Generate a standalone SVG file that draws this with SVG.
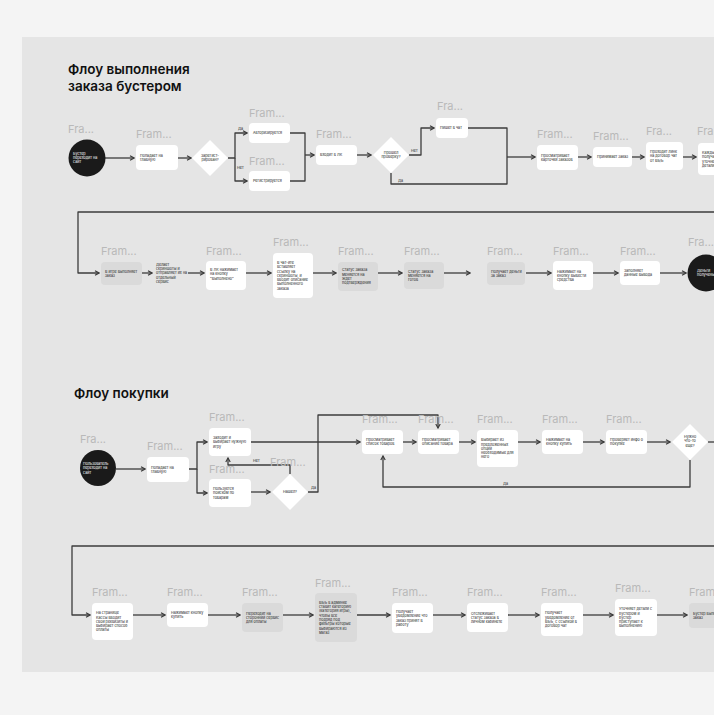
<svg xmlns="http://www.w3.org/2000/svg" width="714" height="715" viewBox="0 0 714 715">
<defs>
<style>
.fl{font-family:Inter,"Liberation Sans",sans-serif;font-size:11px;fill:#b9b9b9}
.t{font-family:Inter,"Liberation Sans",sans-serif;font-size:3.7px;fill:#1e1e1e}
.tm{text-anchor:middle}
.tw{fill:#ffffff}
.lb{font-family:Inter,"Liberation Sans",sans-serif;font-size:3.7px;fill:#1e1e1e}
.title{font-family:Inter,"Liberation Sans",sans-serif;font-size:13.5px;font-weight:600;fill:#111111}
.box{fill:#ffffff}
.gbox{fill:#dadada}
.dia{fill:#ffffff}
.circ{fill:#1a1a1a}
.c{fill:none;stroke:#3c3c3c;stroke-width:1.3;stroke-linejoin:round}
.a{marker-end:url(#ah)}
</style>
<marker id="ah" viewBox="0 0 6 6" refX="5" refY="3" markerWidth="6" markerHeight="6" markerUnits="userSpaceOnUse" orient="auto">
<path d="M1,0.8 L5,3 L1,5.2" fill="none" stroke="#3c3c3c" stroke-width="1.2"/>
</marker>
</defs>
<rect x="0" y="0" width="714" height="715" fill="#f4f4f4"/>
<rect x="22" y="37" width="692" height="635" fill="#e5e5e5"/>

<text class="title" x="68" y="74">Флоу выполнения</text>
<text class="title" x="68" y="91">заказа бустером</text>
<text class="title" x="74" y="398">Флоу покупки</text>

<g id="connectors">
<path class="c a" d="M105,158 H134"/>
<path class="c a" d="M178,158 H191"/>
<path class="c a" d="M228,158 H235 V133 H247"/>
<path class="c a" d="M235,158 V181 H247"/>
<path class="c" d="M290,133 H305 V181 H290"/>
<path class="c a" d="M305,155 H314"/>
<path class="c a" d="M357,155 H371"/>
<path class="c a" d="M409,155 H421 V128 H434"/>
<path class="c" d="M468,128 H507 V184 H391 V173"/>
<path class="c a" d="M507,157 H535"/>
<path class="c a" d="M578,157 H591"/>
<path class="c a" d="M632,157 H644"/>
<path class="c a" d="M683,157 H696"/>
<path class="c a" d="M714,212 H78 V273 H99"/>
<path class="c a" d="M142,273 H152"/>
<path class="c a" d="M188,273 H204"/>
<path class="c a" d="M246,273 H271"/>
<path class="c a" d="M313,273 H336"/>
<path class="c a" d="M378,273 H402"/>
<path class="c a" d="M444,273 H470"/>
<path class="c a" d="M526,273 H551"/>
<path class="c a" d="M593,273 H618"/>
<path class="c a" d="M660,273 H686"/>
<path class="c a" d="M116,469 H145"/>
<path class="c a" d="M189,469 H197 V442 H207"/>
<path class="c a" d="M197,469 V493 H207"/>
<path class="c a" d="M251,492 H270"/>
<path class="c a" d="M290,474 V465 H228 V458"/>
<path class="c a" d="M308,492 H318 V415 H438 V428"/>
<path class="c a" d="M251,442 H360"/>
<path class="c a" d="M403,442 H416"/>
<path class="c a" d="M459,442 H475"/>
<path class="c a" d="M518,442 H540"/>
<path class="c a" d="M583,442 H604"/>
<path class="c a" d="M647,442 H670"/>
<path class="c a" d="M690,460 V487 H383 V456"/>
<path class="c" d="M708,442 H714"/>
<path class="c a" d="M714,546 H72 V615 H90"/>
<path class="c a" d="M133,615 H165"/>
<path class="c a" d="M208,615 H240"/>
<path class="c a" d="M283,615 H313"/>
<path class="c a" d="M357,615 H390"/>
<path class="c a" d="M433,615 H465"/>
<path class="c a" d="M508,615 H539"/>
<path class="c a" d="M583,615 H613"/>
<path class="c a" d="M657,615 H687"/>
<text class="lb" x="238" y="130">Да</text>
<text class="lb" x="237" y="169">Нет</text>
<text class="lb" x="411" y="152">Нет</text>
<text class="lb" x="398" y="182">Да</text>
<text class="lb" x="253" y="462">Нет</text>
<text class="lb" x="311" y="489">Да</text>
<text class="lb" x="503" y="485">Да</text>
</g>

<!-- Row 1 -->
<g id="n-booster-site"><text class="fl" x="68" y="133">Fra...</text><circle class="circ" cx="87" cy="158" r="18.5"/><text class="t tw" x="73"><tspan x="73" y="154.7">Бустер</tspan><tspan x="73" y="159">переходит на</tspan><tspan x="73" y="163.3">сайт</tspan></text></g>
<g id="n-main1"><text class="fl" x="136" y="138">Fram...</text><rect class="box" x="136" y="145" width="42" height="25" rx="4"/><text class="t"><tspan x="140" y="156.6">Попадает на</tspan><tspan x="140" y="160.9">главную</tspan></text></g>
<g id="d-registered"><polygon class="dia" points="210,140 228,158 210,176 192,158"/><text class="t tm"><tspan x="210" y="157.1">Зарегист-</tspan><tspan x="210" y="161.4">рирован?</tspan></text></g>
<g id="n-auth"><text class="fl" x="249" y="117">Fram...</text><rect class="box" x="249" y="123" width="41" height="20" rx="4"/><text class="t" x="253" y="134.3">Авторизируется</text></g>
<g id="n-reg"><text class="fl" x="249" y="165">Fram...</text><rect class="box" x="249" y="171" width="41" height="20" rx="4"/><text class="t" x="253" y="182.3">Регистрируется</text></g>
<g id="n-lk"><text class="fl" x="316" y="138">Fram...</text><rect class="box" x="316" y="145" width="41" height="20" rx="4"/><text class="t" x="320" y="156.3">Входит в ЛК</text></g>
<g id="d-check"><polygon class="dia" points="391,137 409,155 391,173 373,155"/><text class="t tm"><tspan x="391" y="154.1">Прошел</tspan><tspan x="391" y="158.4">проверку?</tspan></text></g>
<g id="n-chat"><text class="fl" x="437" y="110">Fra...</text><rect class="box" x="436" y="118" width="32" height="20" rx="4"/><text class="t" x="440" y="129.3">Пишет в чат</text></g>
<g id="n-cards"><text class="fl" x="537" y="138">Fram...</text><rect class="box" x="537" y="145" width="41" height="25" rx="4"/><text class="t"><tspan x="541" y="156.6">Просматривает</tspan><tspan x="541" y="160.9">карточки заказов</tspan></text></g>
<g id="n-accept"><text class="fl" x="593" y="140">Fram...</text><rect class="box" x="593" y="147" width="39" height="20" rx="4"/><text class="t" x="597" y="158.3">Принимает заказ</text></g>
<g id="n-link"><text class="fl" x="646" y="135">Fra...</text><rect class="box" x="646" y="142" width="37" height="28" rx="4"/><text class="t"><tspan x="650" y="153">Проходит линк</tspan><tspan x="650" y="157.3">на договор чат</tspan><tspan x="650" y="161.6">от ВБ/Ь</tspan></text></g>
<g id="n-details"><text class="fl" x="697" y="135">Fra...</text><rect class="box" x="698" y="143" width="30" height="32" rx="4"/><text class="t"><tspan x="702" y="153.9">Каждый</tspan><tspan x="702" y="158.2">получает</tspan><tspan x="702" y="162.5">уточнения</tspan><tspan x="702" y="166.8">детали</tspan></text></g>

<!-- Row 2 -->
<g id="n-ingame"><text class="fl" x="101" y="255">Fram...</text><rect class="gbox" x="101" y="262" width="41" height="23" rx="4"/><text class="t"><tspan x="105" y="272.6">В игре выполняет</tspan><tspan x="105" y="276.9">заказ</tspan></text></g>
<g id="n-screens"><text class="t"><tspan x="156" y="265.7">Делает</tspan><tspan x="156" y="270">скриншоты и</tspan><tspan x="156" y="274.3">отправляет их на</tspan><tspan x="156" y="278.6">отдельный</tspan><tspan x="156" y="282.9">сервис</tspan></text></g>
<g id="n-done"><text class="fl" x="206" y="255">Fram...</text><rect class="box" x="206" y="261" width="40" height="29" rx="4"/><text class="t"><tspan x="210" y="271">В ЛК нажимает</tspan><tspan x="210" y="275.3">на кнопку</tspan><tspan x="210" y="279.6">"Выполнено"</tspan></text></g>
<g id="n-chatlink"><text class="fl" x="273" y="246">Fram...</text><rect class="box" x="273" y="253" width="40" height="45" rx="4"/><text class="t"><tspan x="277" y="263.9">В чат-ите</tspan><tspan x="277" y="268.2">вставляет</tspan><tspan x="277" y="272.5">ссылку на</tspan><tspan x="277" y="276.8">скриншоты, и</tspan><tspan x="277" y="281.1">вводит описание</tspan><tspan x="277" y="285.4">выполненного</tspan><tspan x="277" y="289.7">заказа</tspan></text></g>
<g id="n-status1"><text class="fl" x="338" y="255">Fram...</text><rect class="gbox" x="338" y="262" width="40" height="29" rx="4"/><text class="t"><tspan x="342" y="271.4">Статус заказа</tspan><tspan x="342" y="275.7">меняется на</tspan><tspan x="342" y="280">Ждет</tspan><tspan x="342" y="284.3">подтверждения</tspan></text></g>
<g id="n-status2"><text class="fl" x="404" y="255">Fram...</text><rect class="gbox" x="404" y="262" width="40" height="27" rx="4"/><text class="t"><tspan x="408" y="272.5">Статус заказа</tspan><tspan x="408" y="276.8">меняется на</tspan><tspan x="408" y="281.1">Готов</tspan></text></g>
<g id="n-money"><text class="fl" x="487" y="255">Fram...</text><rect class="gbox" x="487" y="262" width="38" height="23" rx="4"/><text class="t"><tspan x="491" y="272.6">Получает деньги</tspan><tspan x="491" y="276.9">за заказ</tspan></text></g>
<g id="n-withdraw"><text class="fl" x="553" y="255">Fram...</text><rect class="box" x="553" y="261" width="40" height="29" rx="4"/><text class="t"><tspan x="557" y="272.5">Нажимает на</tspan><tspan x="557" y="276.8">кнопку Вывести</tspan><tspan x="557" y="281.1">средства</tspan></text></g>
<g id="n-fill"><text class="fl" x="620" y="255">Fram...</text><rect class="box" x="620" y="261" width="40" height="24" rx="4"/><text class="t"><tspan x="624" y="272.1">Заполняет</tspan><tspan x="624" y="276.4">данные вывода</tspan></text></g>
<g id="n-received"><text class="fl" x="688" y="246">Fra...</text><circle class="circ" cx="706" cy="273" r="18.5"/><text class="t tw"><tspan x="697" y="272.1">Деньги</tspan><tspan x="697" y="276.4">получены</tspan></text></g>

<!-- Row 3 -->
<g id="n-user-site"><text class="fl" x="80" y="443">Fra...</text><circle class="circ" cx="98" cy="468" r="18"/><text class="t tw"><tspan x="83" y="465">Пользователь</tspan><tspan x="83" y="469.3">переходит на</tspan><tspan x="83" y="473.6">сайт</tspan></text></g>
<g id="n-main2"><text class="fl" x="147" y="450">Fram...</text><rect class="box" x="147" y="457" width="42" height="25" rx="4"/><text class="t"><tspan x="151" y="468.6">Попадает на</tspan><tspan x="151" y="472.9">главную</tspan></text></g>
<g id="n-game"><text class="fl" x="209" y="421">Fram...</text><rect class="box" x="209" y="428" width="42" height="28" rx="4"/><text class="t"><tspan x="213" y="439">Заходит и</tspan><tspan x="213" y="443.3">выбирает нужную</tspan><tspan x="213" y="447.6">игру</tspan></text></g>
<g id="n-search"><text class="fl" x="209" y="473">Fram...</text><rect class="box" x="209" y="479" width="42" height="28" rx="4"/><text class="t"><tspan x="213" y="490">Пользуется</tspan><tspan x="213" y="494.3">поиском по</tspan><tspan x="213" y="498.6">товарам</tspan></text></g>
<g id="d-found"><text class="fl" x="270" y="466">Fram...</text><polygon class="dia" points="290,474 308,492 290,510 272,492"/><text class="t tm" x="290" y="493.3">Нашел?</text></g>
<g id="n-list"><text class="fl" x="362" y="423">Fram...</text><rect class="box" x="362" y="430" width="41" height="24" rx="4"/><text class="t"><tspan x="366" y="441.1">Просматривает</tspan><tspan x="366" y="445.4">список товаров</tspan></text></g>
<g id="n-desc"><text class="fl" x="418" y="423">Fram...</text><rect class="box" x="418" y="430" width="41" height="24" rx="4"/><text class="t"><tspan x="422" y="441.1">Просматривает</tspan><tspan x="422" y="445.4">описание товара</tspan></text></g>
<g id="n-options"><text class="fl" x="477" y="423">Fram...</text><rect class="box" x="477" y="430" width="41" height="37" rx="4"/><text class="t"><tspan x="481" y="441.2">Выбирает из</tspan><tspan x="481" y="445.5">предложенных</tspan><tspan x="481" y="449.8">опций</tspan><tspan x="481" y="454.1">необходимые для</tspan><tspan x="481" y="458.4">него</tspan></text></g>
<g id="n-buy"><text class="fl" x="542" y="423">Fram...</text><rect class="box" x="542" y="430" width="41" height="24" rx="4"/><text class="t"><tspan x="546" y="441.1">Нажимает на</tspan><tspan x="546" y="445.4">кнопку купить</tspan></text></g>
<g id="n-info"><text class="fl" x="606" y="423">Fram...</text><rect class="box" x="606" y="430" width="41" height="24" rx="4"/><text class="t"><tspan x="610" y="441.1">Проверяет инфо о</tspan><tspan x="610" y="445.4">покупке</tspan></text></g>
<g id="d-more"><polygon class="dia" points="690,424 708,442 690,460 672,442"/><text class="t tm"><tspan x="690" y="438">Нужно</tspan><tspan x="690" y="442.3">что-то</tspan><tspan x="690" y="446.6">еще?</tspan></text></g>

<!-- Row 4 -->
<g id="n-checkout"><text class="fl" x="92" y="596">Fram...</text><rect class="box" x="92" y="603" width="41" height="37" rx="4"/><text class="t"><tspan x="96" y="614.2">На странице</tspan><tspan x="96" y="618.5">Кассы вводит</tspan><tspan x="96" y="622.8">свои реквизиты и</tspan><tspan x="96" y="627.1">выбирает способ</tspan><tspan x="96" y="631.4">оплаты</tspan></text></g>
<g id="n-buybtn"><text class="fl" x="167" y="596">Fram...</text><rect class="box" x="167" y="603" width="41" height="24" rx="4"/><text class="t"><tspan x="171" y="614.1">Нажимает кнопку</tspan><tspan x="171" y="618.4">купить</tspan></text></g>
<g id="n-pay"><text class="fl" x="242" y="596">Fram...</text><rect class="gbox" x="242" y="603" width="41" height="29" rx="4"/><text class="t"><tspan x="246" y="614.5">Переходит на</tspan><tspan x="246" y="618.8">сторонний сервис</tspan><tspan x="246" y="623.1">для оплаты</tspan></text></g>
<g id="n-admin"><text class="fl" x="315" y="587">Fram...</text><rect class="gbox" x="315" y="593" width="42" height="49" rx="4"/><text class="t"><tspan x="319" y="603.8">ВБ/ь в админке</tspan><tspan x="319" y="608.1">ставит категорию</tspan><tspan x="319" y="612.4">(категория игры),</tspan><tspan x="319" y="616.7">чтобы все</tspan><tspan x="319" y="621">подряд под</tspan><tspan x="319" y="625.3">фильтры которые</tspan><tspan x="319" y="629.6">выбираются из</tspan><tspan x="319" y="633.9">магаз</tspan></text></g>
<g id="n-notified"><text class="fl" x="392" y="596">Fram...</text><rect class="box" x="392" y="603" width="41" height="30" rx="4"/><text class="t"><tspan x="396" y="612.9">Получает</tspan><tspan x="396" y="617.2">уведомление что</tspan><tspan x="396" y="621.5">заказ принят в</tspan><tspan x="396" y="625.8">работу</tspan></text></g>
<g id="n-track"><text class="fl" x="467" y="596">Fram...</text><rect class="box" x="467" y="603" width="41" height="29" rx="4"/><text class="t"><tspan x="471" y="614.5">Отслеживает</tspan><tspan x="471" y="618.8">статус заказа в</tspan><tspan x="471" y="623.1">личном кабинете</tspan></text></g>
<g id="n-notif2"><text class="fl" x="541" y="596">Fram...</text><rect class="box" x="541" y="603" width="42" height="33" rx="4"/><text class="t"><tspan x="545" y="614.4">Получает</tspan><tspan x="545" y="618.7">уведомление от</tspan><tspan x="545" y="623">ВБ/ь, с ссылкой в</tspan><tspan x="545" y="627.3">договор чат</tspan></text></g>
<g id="n-clarify"><text class="fl" x="615" y="592">Fram...</text><rect class="box" x="615" y="599" width="42" height="37" rx="4"/><text class="t"><tspan x="619" y="610.2">Уточняет детали с</tspan><tspan x="619" y="614.5">бустером и</tspan><tspan x="619" y="618.8">бустер</tspan><tspan x="619" y="623.1">приступает к</tspan><tspan x="619" y="627.4">выполнению</tspan></text></g>
<g id="n-boosterdo"><text class="fl" x="689" y="596">Fram...</text><rect class="gbox" x="689" y="603" width="40" height="25" rx="4"/><text class="t"><tspan x="693" y="614.6">Бустер выполняет</tspan><tspan x="693" y="618.9">заказ</tspan></text></g>
</svg>
